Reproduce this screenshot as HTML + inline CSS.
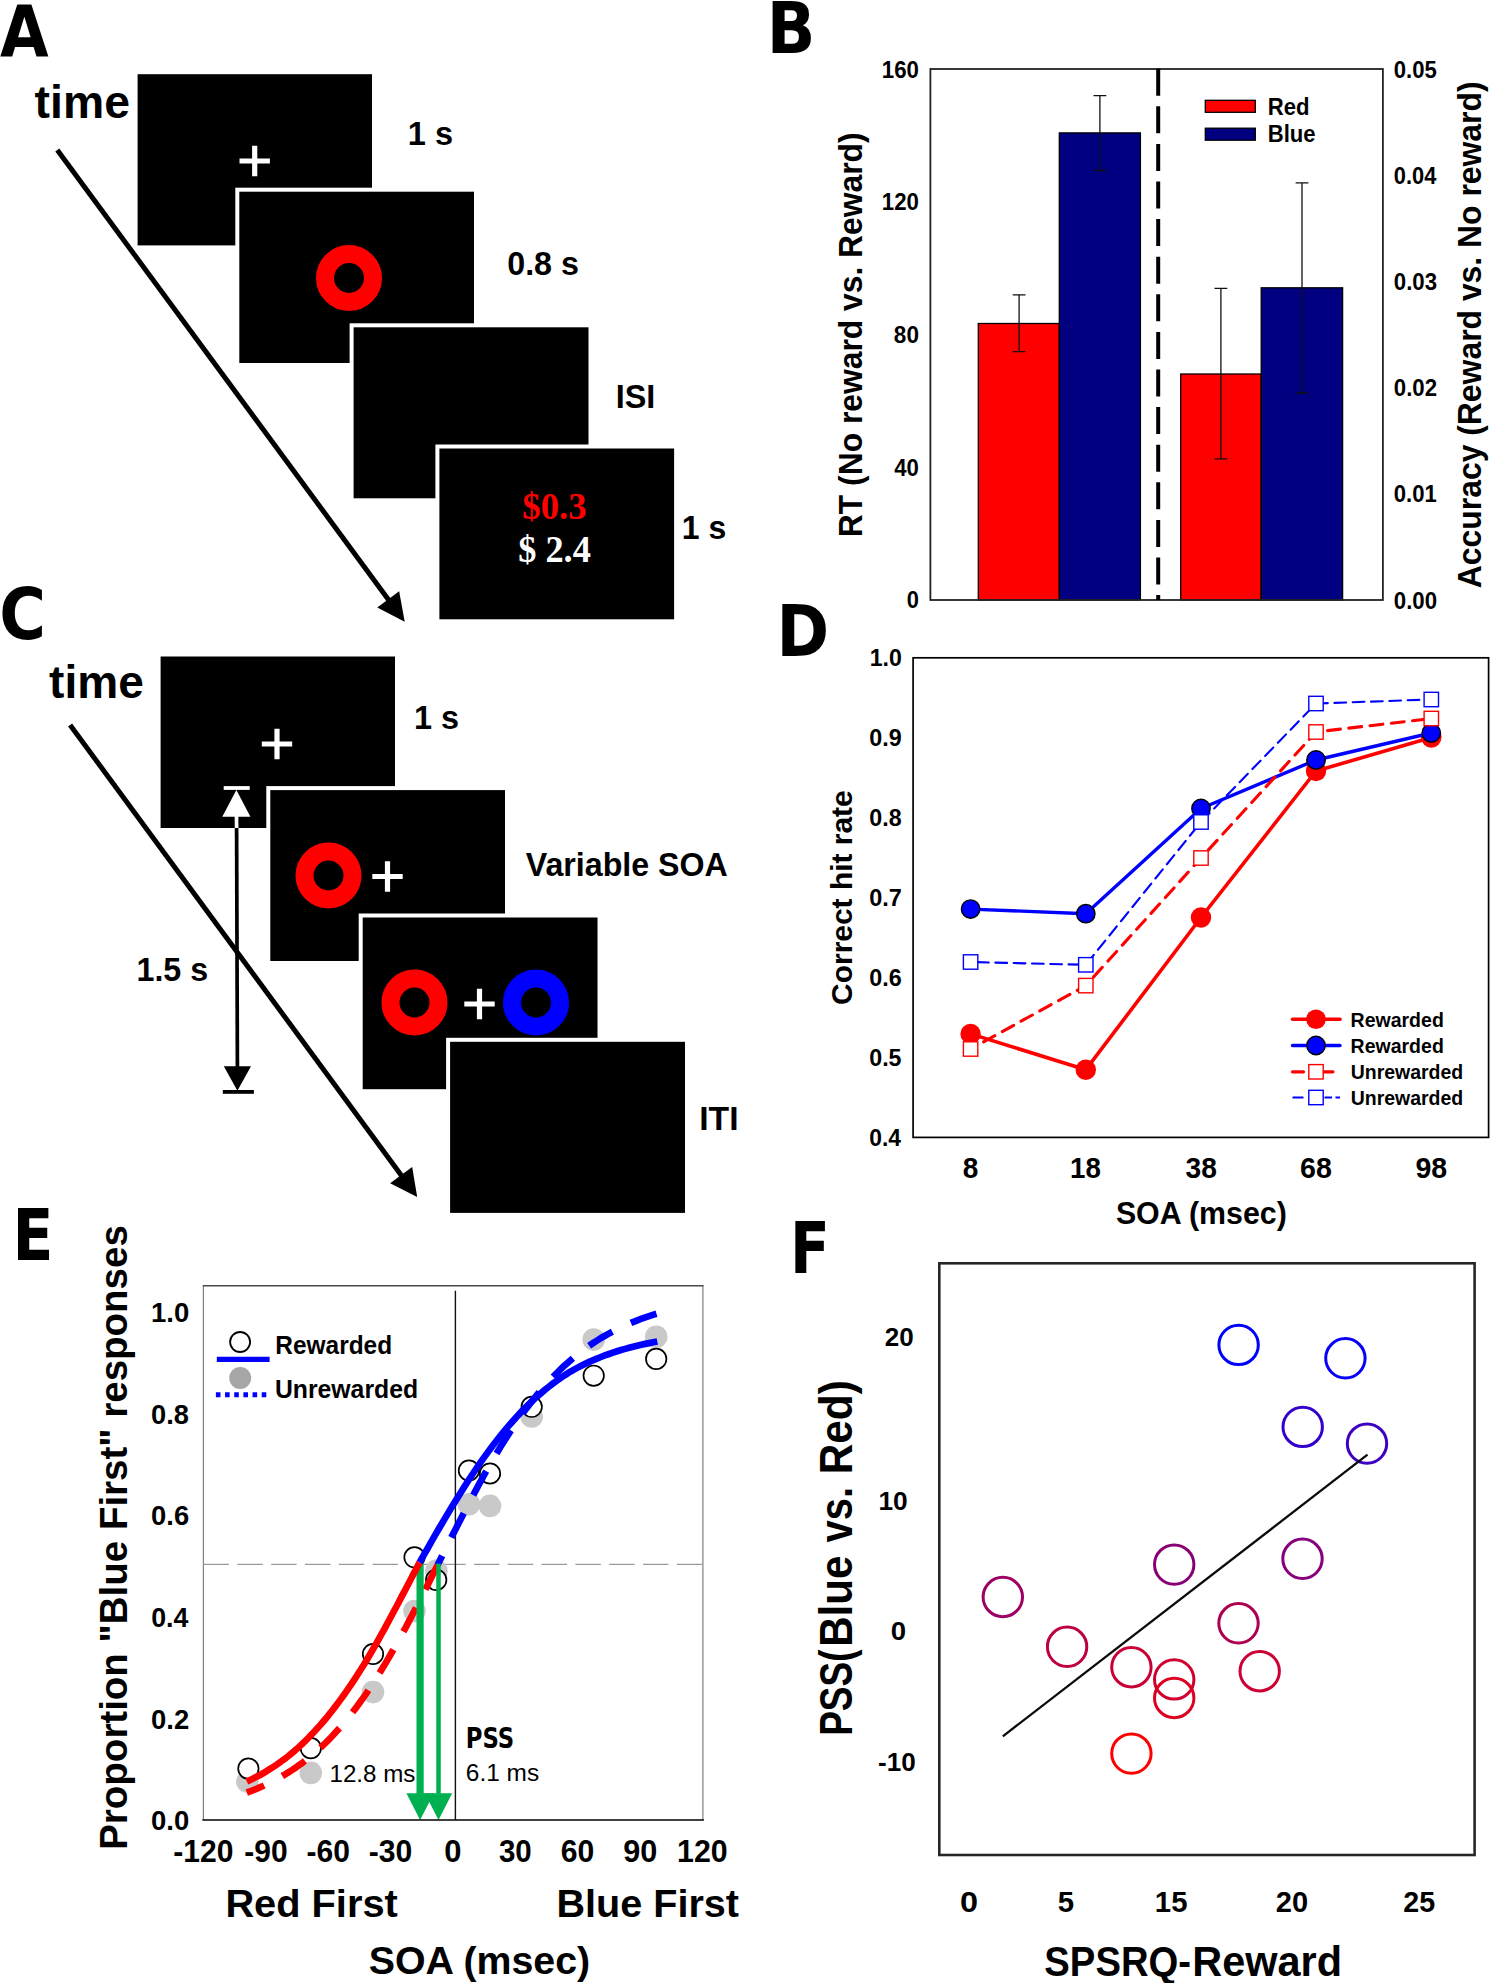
<!DOCTYPE html>
<html lang="en">
<head>
<meta charset="utf-8">
<title>Figure</title>
<style>
html,body{margin:0;padding:0;background:#fff;}
body{width:1490px;height:1983px;overflow:hidden;}
svg{display:block;}
text{font-family:'Liberation Sans', sans-serif;font-weight:700;}
text.rg{font-weight:400;}
text.sf{font-family:'Liberation Serif', serif;}
text.dv{font-family:'DejaVu Sans', sans-serif;}
</style>
</head>
<body>
<svg width="1490" height="1983" viewBox="0 0 1490 1983">
<rect x="0" y="0" width="1490" height="1983" fill="#fff"/>
<!-- Panel A -->
<text font-size="71.33" class="dv" textLength="48.66" lengthAdjust="spacingAndGlyphs" x="-0.11" y="56.0">A</text>
<text font-size="47" textLength="95.34" lengthAdjust="spacingAndGlyphs" x="34.62" y="118.4">time</text>
<line x1="57.3" y1="150" x2="389.4" y2="600.93" stroke="#000" stroke-width="5"/>
<polygon points="404.7,621.7 377.26,607.38 399.16,591.25" fill="#000"/>
<rect x="137.6" y="74.2" width="234.4" height="171.2" fill="#000"/>
<path d="M239.5 161H269.9M254.7 145.8V176.2" fill="none" stroke="#fff" stroke-width="5.2"/>
<rect x="235.3" y="187.7" width="238.7" height="175.3" fill="#fff"/>
<rect x="239.3" y="191.7" width="234.7" height="171.3" fill="#000"/>
<circle cx="349" cy="278" r="24" fill="none" stroke="#f00" stroke-width="18"/>
<rect x="349.6" y="323.3" width="238.9" height="175.0" fill="#fff"/>
<rect x="353.6" y="327.3" width="234.9" height="171.0" fill="#000"/>
<rect x="435.4" y="444.5" width="238.7" height="174.8" fill="#fff"/>
<rect x="439.4" y="448.5" width="234.7" height="170.8" fill="#000"/>
<text font-size="34" textLength="45.24" lengthAdjust="spacingAndGlyphs" x="407.77" y="144.7">1 s</text>
<text font-size="33.5" textLength="71.74" lengthAdjust="spacingAndGlyphs" x="507.21" y="275.3">0.8 s</text>
<text font-size="34" textLength="39.58" lengthAdjust="spacingAndGlyphs" x="615.72" y="408.2">ISI</text>
<text font-size="33.5" textLength="44.38" lengthAdjust="spacingAndGlyphs" x="681.8" y="538.5">1 s</text>
<text font-size="37.3" class="sf" fill="#f00" textLength="64.27" lengthAdjust="spacingAndGlyphs" x="522.31" y="518.7">$0.3</text>
<text font-size="37" class="sf" fill="#fff" textLength="72.71" lengthAdjust="spacingAndGlyphs" x="518.13" y="562">$ 2.4</text>
<!-- Panel C -->
<text font-size="71.19" class="dv" textLength="46.76" lengthAdjust="spacingAndGlyphs" x="-0.79" y="639.3">C</text>
<text font-size="47" textLength="94.73" lengthAdjust="spacingAndGlyphs" x="49.12" y="697.8">time</text>
<rect x="160.6" y="656.5" width="234.4" height="171.5" fill="#000"/>
<path d="M261.8 744H292.2M277 728.8V759.2" fill="none" stroke="#fff" stroke-width="5.2"/>
<line x1="223.7" y1="788" x2="249.7" y2="788" stroke="#fff" stroke-width="3.8"/>
<polygon points="236.4,790 222.3,816.7 250.4,816.7" fill="#fff"/>
<line x1="236.5" y1="816" x2="236.6" y2="828.2" stroke="#fff" stroke-width="3.7"/>
<line x1="236.6" y1="828" x2="237.4" y2="1068" stroke="#000" stroke-width="3.7"/>
<polygon points="237.4,1090.7 223.8,1066.3 251,1066.3" fill="#000"/>
<line x1="222.8" y1="1091.9" x2="253.9" y2="1091.9" stroke="#000" stroke-width="3.8"/>
<line x1="70.1" y1="725" x2="402.33" y2="1176.68" stroke="#000" stroke-width="5"/>
<polygon points="417.2,1196.9 390.11,1183.19 412.18,1166.95" fill="#000"/>
<rect x="266.3" y="786.1" width="238.7" height="174.9" fill="#fff"/>
<rect x="270.3" y="790.1" width="234.7" height="170.9" fill="#000"/>
<circle cx="328.5" cy="875.5" r="24" fill="none" stroke="#f00" stroke-width="18"/>
<path d="M372.3 876.5H402.7M387.5 861.3V891.7" fill="none" stroke="#fff" stroke-width="5.2"/>
<rect x="358.7" y="913.5" width="238.8" height="175.7" fill="#fff"/>
<rect x="362.7" y="917.5" width="234.8" height="171.7" fill="#000"/>
<circle cx="414.5" cy="1002.5" r="24" fill="none" stroke="#f00" stroke-width="18"/>
<path d="M464.3 1004H494.7M479.5 988.8V1019.2" fill="none" stroke="#fff" stroke-width="5.2"/>
<circle cx="536" cy="1002.5" r="24" fill="none" stroke="#00f" stroke-width="18"/>
<rect x="446.1" y="1037.8" width="238.9" height="175.1" fill="#fff"/>
<rect x="450.1" y="1041.8" width="234.9" height="171.1" fill="#000"/>
<text font-size="34" textLength="45.03" lengthAdjust="spacingAndGlyphs" x="413.98" y="729">1 s</text>
<text font-size="34" textLength="201.98" lengthAdjust="spacingAndGlyphs" x="525.76" y="876.2">Variable SOA</text>
<text font-size="34" textLength="39.3" lengthAdjust="spacingAndGlyphs" x="699.23" y="1130">ITI</text>
<text font-size="34" textLength="71.66" lengthAdjust="spacingAndGlyphs" x="136.49" y="981">1.5 s</text>
<!-- Panel B -->
<text font-size="71.19" class="dv" textLength="48.66" lengthAdjust="spacingAndGlyphs" x="766.8" y="52.5">B</text>
<rect x="978.3" y="323.5" width="81.0" height="276.5" fill="#f00" stroke="#000" stroke-width="1.3"/>
<rect x="1059.3" y="132.9" width="81.1" height="467.1" fill="#000080" stroke="#000" stroke-width="1.3"/>
<rect x="1180.7" y="374" width="80.5" height="226.0" fill="#f00" stroke="#000" stroke-width="1.3"/>
<rect x="1261.2" y="287.8" width="81.4" height="312.2" fill="#000080" stroke="#000" stroke-width="1.3"/>
<rect x="930.4" y="69.0" width="452.5" height="531.0" fill="none" stroke="#222" stroke-width="1.8"/>
<line x1="1158.2" y1="68.7" x2="1158.2" y2="600.0" stroke="#000" stroke-width="4" stroke-dasharray="27 10.6"/>
<path d="M1019.1 294.8V351.7M1012.7 294.8H1025.5M1012.7 351.7H1025.5" fill="none" stroke="#111" stroke-width="1.3"/>
<path d="M1099.9 95.6V170.5M1093.5 95.6H1106.3M1093.5 170.5H1106.3" fill="none" stroke="#111" stroke-width="1.3"/>
<path d="M1220.9 288.3V458.8M1214.5 288.3H1227.3M1214.5 458.8H1227.3" fill="none" stroke="#111" stroke-width="1.3"/>
<path d="M1302 182.9V393M1295.6 182.9H1308.4M1295.6 393H1308.4" fill="none" stroke="#111" stroke-width="1.3"/>
<rect x="1205.3" y="100.3" width="50.0" height="12.0" fill="#f00" stroke="#000" stroke-width="1.3"/>
<rect x="1205.3" y="128.2" width="50.0" height="12.0" fill="#000080" stroke="#000" stroke-width="1.3"/>
<text font-size="23.6" textLength="41.77" lengthAdjust="spacingAndGlyphs" x="1267.71" y="114.7">Red</text>
<text font-size="23.6" textLength="47.85" lengthAdjust="spacingAndGlyphs" x="1267.71" y="142.0">Blue</text>
<text font-size="23.8" textLength="37.1" lengthAdjust="spacingAndGlyphs" x="881.81" y="77.6">160</text>
<text font-size="23.8" textLength="37.1" lengthAdjust="spacingAndGlyphs" x="881.81" y="210.3">120</text>
<text font-size="23.8" textLength="25.09" lengthAdjust="spacingAndGlyphs" x="893.87" y="343.0">80</text>
<text font-size="23.8" textLength="24.67" lengthAdjust="spacingAndGlyphs" x="894.27" y="475.7">40</text>
<text font-size="23.8" textLength="12.18" lengthAdjust="spacingAndGlyphs" x="906.72" y="608.4">0</text>
<text font-size="23.8" textLength="43.02" lengthAdjust="spacingAndGlyphs" x="1393.82" y="77.6">0.05</text>
<text font-size="23.8" textLength="42.51" lengthAdjust="spacingAndGlyphs" x="1393.83" y="183.8">0.04</text>
<text font-size="23.8" textLength="43.19" lengthAdjust="spacingAndGlyphs" x="1393.81" y="289.9">0.03</text>
<text font-size="23.8" textLength="43.25" lengthAdjust="spacingAndGlyphs" x="1393.81" y="396.1">0.02</text>
<text font-size="23.8" textLength="43.02" lengthAdjust="spacingAndGlyphs" x="1393.82" y="502.3">0.01</text>
<text font-size="23.8" textLength="43.31" lengthAdjust="spacingAndGlyphs" x="1393.81" y="608.5">0.00</text>
<text font-size="33.6" textLength="404.75" lengthAdjust="spacingAndGlyphs" transform="translate(861.6 537.15) rotate(-90)">RT (No reward vs. Reward)</text>
<text font-size="33" textLength="506.81" lengthAdjust="spacingAndGlyphs" transform="translate(1480.9 588.2) rotate(-90)">Accuracy (Reward vs. No reward)</text>
<!-- Panel D -->
<text font-size="71.33" class="dv" textLength="52.71" lengthAdjust="spacingAndGlyphs" x="776.43" y="656.2">D</text>
<rect x="913.1" y="657.8" width="575.5" height="479.6" fill="none" stroke="#000" stroke-width="1.7"/>
<path d="M970.6 1033.9L1085.8 1069.7L1201 917.5L1316 771L1431.3 737.5" fill="none" stroke="#f00" stroke-width="3.6" stroke-linejoin="round"/>
<circle cx="970.6" cy="1033.9" r="10.2" fill="#f00"/>
<circle cx="1085.8" cy="1069.7" r="10.2" fill="#f00"/>
<circle cx="1201" cy="917.5" r="10.2" fill="#f00"/>
<circle cx="1316" cy="771" r="10.2" fill="#f00"/>
<circle cx="1431.3" cy="737.5" r="10.2" fill="#f00"/>
<path d="M970.6 909.1L1085.8 913.7L1201 808.5L1316 760L1431.3 733" fill="none" stroke="#00f" stroke-width="3.4" stroke-linejoin="round"/>
<circle cx="970.6" cy="909.1" r="9.2" fill="#00f" stroke="#000" stroke-width="1.4"/>
<circle cx="1085.8" cy="913.7" r="9.2" fill="#00f" stroke="#000" stroke-width="1.4"/>
<circle cx="1201" cy="808.5" r="9.2" fill="#00f" stroke="#000" stroke-width="1.4"/>
<circle cx="1316" cy="760" r="9.2" fill="#00f" stroke="#000" stroke-width="1.4"/>
<circle cx="1431.3" cy="733" r="9.2" fill="#00f" stroke="#000" stroke-width="1.4"/>
<path d="M970.6 1049L1085.8 985.6L1201 858L1316 732L1431.3 718.5" fill="none" stroke="#f00" stroke-width="3.1" stroke-dasharray="12.9 8.5" stroke-linecap="round" stroke-dashoffset="6.6" stroke-linejoin="round"/>
<rect x="963.4" y="1041.8" width="14.4" height="14.4" fill="#fff" stroke="#f00" stroke-width="1.4"/>
<rect x="1078.6" y="978.4" width="14.4" height="14.4" fill="#fff" stroke="#f00" stroke-width="1.4"/>
<rect x="1193.8" y="850.8" width="14.4" height="14.4" fill="#fff" stroke="#f00" stroke-width="1.4"/>
<rect x="1308.8" y="724.8" width="14.4" height="14.4" fill="#fff" stroke="#f00" stroke-width="1.4"/>
<rect x="1424.1" y="711.3" width="14.4" height="14.4" fill="#fff" stroke="#f00" stroke-width="1.4"/>
<path d="M970.6 962L1085.8 964.8L1201 822L1316 703.5L1431.3 699.5" fill="none" stroke="#00f" stroke-width="2.1" stroke-dasharray="11.7 6.6" stroke-linecap="round" stroke-dashoffset="11.8" stroke-linejoin="round"/>
<rect x="963.4" y="954.8" width="14.4" height="14.4" fill="#fff" stroke="#00f" stroke-width="1.4"/>
<rect x="1078.6" y="957.6" width="14.4" height="14.4" fill="#fff" stroke="#00f" stroke-width="1.4"/>
<rect x="1193.8" y="814.8" width="14.4" height="14.4" fill="#fff" stroke="#00f" stroke-width="1.4"/>
<rect x="1308.8" y="696.3" width="14.4" height="14.4" fill="#fff" stroke="#00f" stroke-width="1.4"/>
<rect x="1424.1" y="692.3" width="14.4" height="14.4" fill="#fff" stroke="#00f" stroke-width="1.4"/>
<line x1="1292.5" y1="1019.2" x2="1340" y2="1019.2" stroke="#f00" stroke-width="3.6" stroke-linecap="round"/>
<circle cx="1316" cy="1019.2" r="9.8" fill="#f00"/>
<line x1="1292.5" y1="1045.5" x2="1340" y2="1045.5" stroke="#00f" stroke-width="3.4" stroke-linecap="round"/>
<circle cx="1316" cy="1045.5" r="9.2" fill="#00f" stroke="#000" stroke-width="1.4"/>
<line x1="1292.5" y1="1071.8" x2="1333" y2="1071.8" stroke="#f00" stroke-width="3.2" stroke-linecap="round" stroke-dasharray="11 20 100"/>
<rect x="1308.8" y="1064.6" width="14.4" height="14.4" fill="#fff" stroke="#f00" stroke-width="1.4"/>
<line x1="1292.5" y1="1097.5" x2="1340" y2="1097.5" stroke="#00f" stroke-width="2.2" stroke-dasharray="11 21 7.5 3.5 6"/>
<rect x="1308.8" y="1090.3" width="14.4" height="14.4" fill="#fff" stroke="#00f" stroke-width="1.4"/>
<text font-size="19.5" textLength="93.22" lengthAdjust="spacingAndGlyphs" x="1350.58" y="1026.8">Rewarded</text>
<text font-size="19.5" textLength="93.22" lengthAdjust="spacingAndGlyphs" x="1350.58" y="1052.9">Rewarded</text>
<text font-size="19.5" textLength="112.47" lengthAdjust="spacingAndGlyphs" x="1350.73" y="1079.2">Unrewarded</text>
<text font-size="19.5" textLength="112.47" lengthAdjust="spacingAndGlyphs" x="1350.73" y="1104.8">Unrewarded</text>
<text font-size="24.6" textLength="32.18" lengthAdjust="spacingAndGlyphs" x="869.65" y="666.3">1.0</text>
<text font-size="24.6" textLength="32.46" lengthAdjust="spacingAndGlyphs" x="869.27" y="746.2">0.9</text>
<text font-size="24.6" textLength="32.33" lengthAdjust="spacingAndGlyphs" x="869.27" y="826.0">0.8</text>
<text font-size="24.6" textLength="32.64" lengthAdjust="spacingAndGlyphs" x="869.26" y="905.9">0.7</text>
<text font-size="24.6" textLength="32.46" lengthAdjust="spacingAndGlyphs" x="869.27" y="985.8">0.6</text>
<text font-size="24.6" textLength="32.27" lengthAdjust="spacingAndGlyphs" x="869.27" y="1065.7">0.5</text>
<text font-size="24.6" textLength="31.73" lengthAdjust="spacingAndGlyphs" x="869.29" y="1145.5">0.4</text>
<text font-size="29.4" textLength="15.58" lengthAdjust="spacingAndGlyphs" x="962.79" y="1177.8">8</text>
<text font-size="29.4" textLength="30.83" lengthAdjust="spacingAndGlyphs" x="1069.97" y="1177.8">18</text>
<text font-size="29.4" textLength="31.35" lengthAdjust="spacingAndGlyphs" x="1185.47" y="1177.8">38</text>
<text font-size="29.4" textLength="31.8" lengthAdjust="spacingAndGlyphs" x="1300.03" y="1177.8">68</text>
<text font-size="29.4" textLength="31.72" lengthAdjust="spacingAndGlyphs" x="1415.4" y="1177.8">98</text>
<text font-size="31.1" textLength="170.87" lengthAdjust="spacingAndGlyphs" x="1115.89" y="1223.9">SOA (msec)</text>
<text font-size="29.6" textLength="214.61" lengthAdjust="spacingAndGlyphs" transform="translate(851.6 1004.9) rotate(-90)">Correct hit rate</text>
<!-- Panel E -->
<text font-size="70.51" class="dv" textLength="40.92" lengthAdjust="spacingAndGlyphs" x="12.46" y="1259.9">E</text>
<line x1="203.4" y1="1285.8" x2="203.4" y2="1820.0" stroke="#808080" stroke-width="1.2"/>
<line x1="702.9" y1="1285.8" x2="702.9" y2="1820.0" stroke="#808080" stroke-width="1.2"/>
<line x1="202.8" y1="1285.8" x2="703.5" y2="1285.8" stroke="#4a4a4a" stroke-width="1.6"/>
<line x1="203.6" y1="1564.3" x2="702.9" y2="1564.3" stroke="#9a9a9a" stroke-width="1.3" stroke-dasharray="25.4 8.4"/>
<line x1="455.4" y1="1290.7" x2="455.4" y2="1820.0" stroke="#111" stroke-width="1.4"/>
<circle cx="247.4" cy="1781.6" r="11.3" fill="#c9c9c9"/>
<circle cx="310.8" cy="1772.9" r="11.3" fill="#c9c9c9"/>
<circle cx="373.0" cy="1692.1" r="11.3" fill="#c9c9c9"/>
<circle cx="414.5" cy="1611.0" r="11.3" fill="#c9c9c9"/>
<circle cx="436.4" cy="1570.7" r="11.3" fill="#c9c9c9"/>
<circle cx="468.9" cy="1504.3" r="11.3" fill="#c9c9c9"/>
<circle cx="490.0" cy="1505.9" r="11.3" fill="#c9c9c9"/>
<circle cx="531.7" cy="1416.4" r="11.3" fill="#c9c9c9"/>
<circle cx="593.7" cy="1339.6" r="11.3" fill="#c9c9c9"/>
<circle cx="656.2" cy="1336.7" r="11.3" fill="#c9c9c9"/>
<circle cx="248.4" cy="1768.6" r="10.2" fill="#fff" stroke="#000" stroke-width="1.7"/>
<circle cx="310.8" cy="1748.1" r="10.2" fill="#fff" stroke="#000" stroke-width="1.7"/>
<circle cx="373.0" cy="1654.0" r="10.2" fill="#fff" stroke="#000" stroke-width="1.7"/>
<circle cx="414.5" cy="1557.3" r="10.2" fill="#fff" stroke="#000" stroke-width="1.7"/>
<circle cx="436.2" cy="1579.9" r="10.2" fill="#fff" stroke="#000" stroke-width="1.7"/>
<circle cx="468.9" cy="1470.5" r="10.2" fill="#fff" stroke="#000" stroke-width="1.7"/>
<circle cx="490.0" cy="1473.5" r="10.2" fill="#fff" stroke="#000" stroke-width="1.7"/>
<circle cx="531.7" cy="1406.8" r="10.2" fill="#fff" stroke="#000" stroke-width="1.7"/>
<circle cx="593.7" cy="1375.7" r="10.2" fill="#fff" stroke="#000" stroke-width="1.7"/>
<circle cx="656.2" cy="1358.9" r="10.2" fill="#fff" stroke="#000" stroke-width="1.7"/>
<path d="M437.6 1565.1L434.4 1571.6L431.1 1578.0L427.9 1584.4L424.7 1590.9L421.4 1597.2L418.2 1603.5L415.0 1609.8L411.7 1616.0L408.5 1622.1L405.3 1628.2L402.0 1634.2L398.8 1640.0L395.6 1645.8L392.3 1651.5L389.1 1657.1L385.9 1662.6L382.6 1668.0L379.4 1673.3L376.2 1678.4L372.9 1683.4L369.7 1688.3L366.5 1693.1L363.2 1697.8L360.0 1702.3L356.8 1706.7L353.5 1711.0L350.3 1715.2L347.1 1719.2L343.8 1723.1L340.6 1726.9L337.3 1730.5L334.1 1734.1L330.9 1737.5L327.6 1740.8L324.4 1744.0L321.2 1747.1L317.9 1750.0L314.7 1752.9L311.5 1755.6L308.2 1758.3L305.0 1760.8L301.8 1763.3L298.5 1765.6L295.3 1767.9L292.1 1770.0L288.8 1772.1L285.6 1774.1L282.4 1776.0L279.1 1777.9L275.9 1779.6L272.7 1781.3L269.4 1782.9L266.2 1784.5L263.0 1786.0L259.7 1787.4L256.5 1788.8L253.3 1790.1L250.0 1791.3L246.8 1792.5" fill="none" stroke="#f00" stroke-width="6.7" stroke-dasharray="27.2 20.5"/>
<path d="M656.5 1313.8L652.8 1314.9L649.1 1316.1L645.4 1317.4L641.7 1318.7L637.9 1320.1L634.2 1321.6L630.5 1323.1L626.8 1324.7L623.1 1326.4L619.4 1328.2L615.7 1330.0L612.0 1331.9L608.3 1333.9L604.6 1336.0L600.8 1338.2L597.1 1340.5L593.4 1342.9L589.7 1345.4L586.0 1348.0L582.3 1350.8L578.6 1353.6L574.9 1356.6L571.2 1359.7L567.5 1363.0L563.7 1366.3L560.0 1369.8L556.3 1373.5L552.6 1377.3L548.9 1381.2L545.2 1385.3L541.5 1389.5L537.8 1393.9L534.1 1398.5L530.4 1403.2L526.6 1408.1L522.9 1413.1L519.2 1418.3L515.5 1423.7L511.8 1429.2L508.1 1434.8L504.4 1440.6L500.7 1446.6L497.0 1452.7L493.3 1459.0L489.5 1465.4L485.8 1471.9L482.1 1478.6L478.4 1485.4L474.7 1492.3L471.0 1499.3L467.3 1506.3L463.6 1513.5L459.9 1520.7L456.2 1528.0L452.4 1535.4L448.7 1542.8L445.0 1550.2L441.3 1557.6L437.6 1565.1" fill="none" stroke="#00f" stroke-width="6.7" stroke-dasharray="27.2 20.5"/>
<rect x="416.5" y="1563.6" width="7.2" height="230.6" fill="#00b050"/>
<polygon points="406.4,1793.2 433.8,1793.2 420.1,1820" fill="#00b050"/>
<rect x="436.25" y="1563.6" width="4.5" height="230.6" fill="#00b050"/>
<polygon points="424.8,1793.2 452.2,1793.2 438.5,1820" fill="#00b050"/>
<path d="M246.8 1781.6L249.7 1780.2L252.7 1778.8L255.6 1777.3L258.5 1775.8L261.4 1774.2L264.4 1772.5L267.3 1770.7L270.2 1768.9L273.2 1767.0L276.1 1765.1L279.0 1763.0L281.9 1760.9L284.9 1758.8L287.8 1756.5L290.7 1754.1L293.7 1751.6L296.6 1749.1L299.5 1746.4L302.4 1743.7L305.4 1740.9L308.3 1738.0L311.2 1734.9L314.2 1731.8L317.1 1728.6L320.0 1725.4L322.9 1722.0L325.9 1718.5L328.8 1714.9L331.7 1711.2L334.7 1707.4L337.6 1703.6L340.5 1699.6L343.5 1695.5L346.4 1691.4L349.3 1687.1L352.2 1682.8L355.2 1678.3L358.1 1673.8L361.0 1669.2L364.0 1664.5L366.9 1659.7L369.8 1654.8L372.7 1649.8L375.7 1644.6L378.6 1639.4L381.5 1634.1L384.5 1628.8L387.4 1623.4L390.3 1618.0L393.2 1612.5L396.2 1607.0L399.1 1601.5L402.0 1595.9L405.0 1590.4L407.9 1584.8L410.8 1579.2L413.7 1573.6L416.7 1568.0L419.6 1562.4" fill="none" stroke="#f00" stroke-width="6.7"/>
<path d="M419.6 1562.4L423.6 1555.3L427.7 1548.2L431.7 1541.1L435.7 1534.1L439.7 1527.3L443.8 1520.4L447.8 1513.6L451.8 1506.9L455.9 1500.4L459.9 1494.0L463.9 1487.5L467.9 1481.2L472.0 1475.0L476.0 1469.0L480.0 1463.1L484.1 1457.4L488.1 1451.9L492.1 1446.5L496.1 1441.2L500.2 1436.1L504.2 1431.2L508.2 1426.4L512.3 1421.7L516.3 1417.2L520.3 1412.9L524.3 1408.7L528.4 1404.7L532.4 1400.8L536.4 1397.1L540.5 1393.6L544.5 1390.2L548.5 1387.0L552.6 1383.8L556.6 1380.9L560.6 1378.0L564.6 1375.3L568.7 1372.7L572.7 1370.3L576.7 1368.1L580.8 1366.0L584.8 1364.0L588.8 1362.1L592.8 1360.3L596.9 1358.6L600.9 1357.0L604.9 1355.4L609.0 1354.0L613.0 1352.6L617.0 1351.3L621.0 1350.0L625.1 1348.9L629.1 1347.7L633.1 1346.7L637.2 1345.7L641.2 1344.8L645.2 1343.9L649.2 1343.1L653.3 1342.3L657.3 1341.5" fill="none" stroke="#00f" stroke-width="6.7"/>
<line x1="202.4" y1="1820.0" x2="703.9" y2="1820.0" stroke="#000" stroke-width="1.6"/>
<circle cx="240.1" cy="1342.0" r="10.0" fill="#fff" stroke="#000" stroke-width="1.8"/>
<line x1="216.8" y1="1359.4" x2="269.6" y2="1359.4" stroke="#00f" stroke-width="5.3"/>
<circle cx="240.2" cy="1378.0" r="11" fill="#a6a6a6"/>
<line x1="215.9" y1="1394.7" x2="266.3" y2="1394.7" stroke="#00f" stroke-width="5.0" stroke-dasharray="4.6 4.56"/>
<text font-size="25.4" textLength="116.79" lengthAdjust="spacingAndGlyphs" x="275.35" y="1354.2">Rewarded</text>
<text font-size="25.4" textLength="143.15" lengthAdjust="spacingAndGlyphs" x="274.91" y="1398.2">Unrewarded</text>
<text font-size="27.6" class="dv" textLength="48.48" lengthAdjust="spacingAndGlyphs" x="465.69" y="1747.7">PSS</text>
<text font-size="23.7" class="rg" textLength="73.3" lengthAdjust="spacingAndGlyphs" x="465.88" y="1781.3">6.1 ms</text>
<text font-size="23.7" class="rg" textLength="85.95" lengthAdjust="spacingAndGlyphs" x="329.49" y="1781.9">12.8 ms</text>
<text font-size="27.5" textLength="38.22" lengthAdjust="spacingAndGlyphs" x="151.08" y="1322.0">1.0</text>
<text font-size="27.5" textLength="37.91" lengthAdjust="spacingAndGlyphs" x="151.11" y="1423.7">0.8</text>
<text font-size="27.5" textLength="38.06" lengthAdjust="spacingAndGlyphs" x="151.1" y="1525.3">0.6</text>
<text font-size="27.5" textLength="37.21" lengthAdjust="spacingAndGlyphs" x="151.13" y="1627.0">0.4</text>
<text font-size="27.5" textLength="38.13" lengthAdjust="spacingAndGlyphs" x="151.1" y="1728.6">0.2</text>
<text font-size="27.5" textLength="38.2" lengthAdjust="spacingAndGlyphs" x="151.1" y="1830.2">0.0</text>
<text font-size="31.4" textLength="60.15" lengthAdjust="spacingAndGlyphs" x="173.3" y="1862.0">-120</text>
<text font-size="31.4" textLength="43.31" lengthAdjust="spacingAndGlyphs" x="244.3" y="1862.0">-90</text>
<text font-size="31.4" textLength="43.41" lengthAdjust="spacingAndGlyphs" x="306.5" y="1862.0">-60</text>
<text font-size="31.4" textLength="43.52" lengthAdjust="spacingAndGlyphs" x="368.8" y="1862.0">-30</text>
<text font-size="31.4" textLength="17.21" lengthAdjust="spacingAndGlyphs" x="444.16" y="1862.0">0</text>
<text font-size="31.4" textLength="32.81" lengthAdjust="spacingAndGlyphs" x="498.94" y="1862.0">30</text>
<text font-size="31.4" textLength="33.5" lengthAdjust="spacingAndGlyphs" x="560.77" y="1862.0">60</text>
<text font-size="31.4" textLength="34.07" lengthAdjust="spacingAndGlyphs" x="623.33" y="1862.0">90</text>
<text font-size="31.4" textLength="50.64" lengthAdjust="spacingAndGlyphs" x="677.0" y="1862.0">120</text>
<text font-size="38" textLength="172.35" lengthAdjust="spacingAndGlyphs" x="225.42" y="1917.0">Red First</text>
<text font-size="38" textLength="182.44" lengthAdjust="spacingAndGlyphs" x="556.53" y="1917.0">Blue First</text>
<text font-size="38.4" textLength="221.51" lengthAdjust="spacingAndGlyphs" x="368.72" y="1973.8">SOA (msec)</text>
<text font-size="39.2" textLength="624.6" lengthAdjust="spacingAndGlyphs" transform="translate(126.7 1849.8) rotate(-90)">Proportion &quot;Blue First&quot; responses</text>
<!-- Panel F -->
<text font-size="71.6" class="dv" textLength="39.84" lengthAdjust="spacingAndGlyphs" x="790.1" y="1273.3">F</text>
<rect x="939.3" y="1263.3" width="535.3" height="591.7" fill="none" stroke="#262626" stroke-width="2.6"/>
<circle cx="1238.6" cy="1344.9" r="19.7" fill="none" stroke="#0000ff" stroke-width="3.0"/>
<circle cx="1345.4" cy="1358.3" r="19.7" fill="none" stroke="#0800f7" stroke-width="3.0"/>
<circle cx="1302.7" cy="1426.9" r="19.7" fill="none" stroke="#3300cc" stroke-width="3.0"/>
<circle cx="1367.0" cy="1443.6" r="19.7" fill="none" stroke="#3e00c1" stroke-width="3.0"/>
<circle cx="1174.2" cy="1564.6" r="19.7" fill="none" stroke="#890076" stroke-width="3.0"/>
<circle cx="1302.5" cy="1558.8" r="19.7" fill="none" stroke="#85007a" stroke-width="3.0"/>
<circle cx="1002.8" cy="1597.0" r="19.7" fill="none" stroke="#9d0062" stroke-width="3.0"/>
<circle cx="1238.5" cy="1623.3" r="19.7" fill="none" stroke="#ae0051" stroke-width="3.0"/>
<circle cx="1067.1" cy="1646.8" r="19.7" fill="none" stroke="#bc0043" stroke-width="3.0"/>
<circle cx="1131.4" cy="1667.2" r="19.7" fill="none" stroke="#c90036" stroke-width="3.0"/>
<circle cx="1259.7" cy="1671.2" r="19.7" fill="none" stroke="#cc0033" stroke-width="3.0"/>
<circle cx="1174.2" cy="1679.4" r="19.7" fill="none" stroke="#d1002e" stroke-width="3.0"/>
<circle cx="1174.2" cy="1698.0" r="19.7" fill="none" stroke="#dc0023" stroke-width="3.0"/>
<circle cx="1131.4" cy="1753.6" r="19.7" fill="none" stroke="#ff0000" stroke-width="3.0"/>
<line x1="1002.8" y1="1736.3" x2="1367.5" y2="1454.7" stroke="#0a0a0a" stroke-width="2.3"/>
<text font-size="25.6" textLength="28.91" lengthAdjust="spacingAndGlyphs" x="884.89" y="1346.2">20</text>
<text font-size="25.6" textLength="29.26" lengthAdjust="spacingAndGlyphs" x="878.46" y="1509.7">10</text>
<text font-size="25.6" textLength="15.34" lengthAdjust="spacingAndGlyphs" x="890.8" y="1640.4">0</text>
<text font-size="25.6" textLength="37.7" lengthAdjust="spacingAndGlyphs" x="878.06" y="1771.2">-10</text>
<text font-size="29.6" textLength="18.03" lengthAdjust="spacingAndGlyphs" x="960.1" y="1912.3">0</text>
<text font-size="29.6" textLength="16.32" lengthAdjust="spacingAndGlyphs" x="1057.82" y="1912.3">5</text>
<text font-size="29.6" textLength="32.61" lengthAdjust="spacingAndGlyphs" x="1154.87" y="1912.3">15</text>
<text font-size="29.6" textLength="32.35" lengthAdjust="spacingAndGlyphs" x="1275.78" y="1912.3">20</text>
<text font-size="29.6" textLength="31.86" lengthAdjust="spacingAndGlyphs" x="1403.3" y="1912.3">25</text>
<text font-size="43.0"><tspan x="1044.35" y="1976.0" textLength="146.74" lengthAdjust="spacingAndGlyphs">SPSRQ-</tspan><tspan x="1192.2" y="1976.0" textLength="149.79" lengthAdjust="spacingAndGlyphs">Reward</tspan></text>
<text font-size="46" transform="translate(852.4 0) rotate(-90)"><tspan x="-1735.79" y="0" textLength="86.25" lengthAdjust="spacingAndGlyphs">PSS(</tspan><tspan x="-1646.73" y="0" textLength="90.99" lengthAdjust="spacingAndGlyphs">Blue</tspan> <tspan x="-1542.6" y="0" textLength="55.61" lengthAdjust="spacingAndGlyphs">vs.</tspan> <tspan x="-1474.36" y="0" textLength="94.17" lengthAdjust="spacingAndGlyphs">Red)</tspan></text>
</svg>
</body>
</html>
